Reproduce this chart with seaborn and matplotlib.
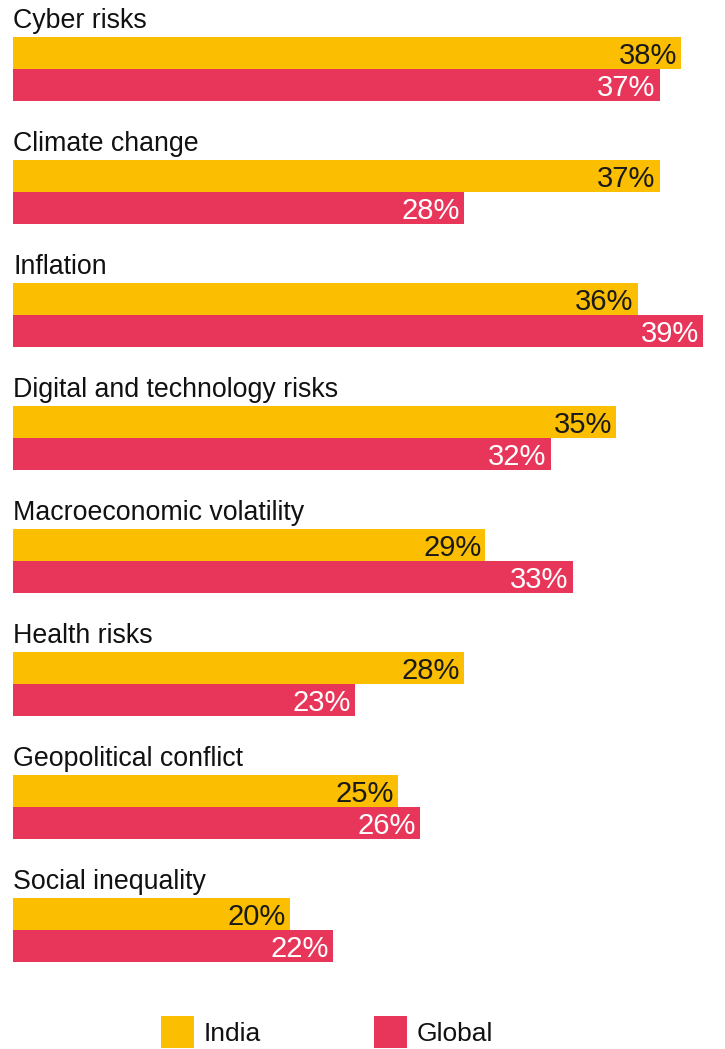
import matplotlib
matplotlib.use("Agg")
import matplotlib.pyplot as plt
import seaborn as sns
import pandas as pd

# ---- data ----
categories = ["Cyber risks", "Climate change", "Inflation",
              "Digital and technology risks", "Macroeconomic volatility",
              "Health risks", "Geopolitical conflict", "Social inequality"]
india = [38, 37, 36, 35, 29, 28, 25, 20]
global_vals = [37, 28, 39, 32, 33, 23, 26, 22]
series = ["India", "Global"]
colors = ["#FBBE00", "#E8365B"]
value_text_colors = ["#1a1a1a", "#ffffff"]

df = pd.DataFrame({
    "risk": categories * 2,
    "region": ["India"] * len(categories) + ["Global"] * len(categories),
    "value": india + global_vals,
})

sns.set_theme(style="white")
plt.rcParams['font.family'] = ['Liberation Sans', 'DejaVu Sans']

W, H = 725, 1049
fig = plt.figure(figsize=(W / 100, H / 100), dpi=100)
ax = fig.add_axes([13 / W, (H - 991.5) / H, (W - 13) / W, 984 / H])

sns.barplot(data=df, y="risk", x="value", hue="region", order=categories,
            hue_order=series, palette=colors, saturation=1, width=0.52,
            orient="h", ax=ax, linewidth=0, errorbar=None)

ax.set_xlim(7.3, 40.0)
ax.set_ylim(len(categories) - 0.5, -0.5)
handles, labels = ax.get_legend_handles_labels()
if ax.get_legend() is not None:
    ax.get_legend().remove()
ax.axis('off')

half = 0.13
for i, cat in enumerate(categories):
    ax.annotate(cat, xy=(0, i - 2 * half), xycoords=('axes fraction', 'data'),
                xytext=(0, 6.5), textcoords='offset points',
                ha='left', va='baseline', fontsize=19.3, color='#111111',
                annotation_clip=False)

for s_idx, vals in enumerate([india, global_vals]):
    offset = -half if s_idx == 0 else half
    for i, v in enumerate(vals):
        ax.annotate(f"{v}%", xy=(v, i + offset), xycoords='data',
                    xytext=(-3, 0), textcoords='offset points',
                    ha='right', va='center_baseline', fontsize=21,
                    color=value_text_colors[s_idx], annotation_clip=False)

fig.legend(handles, labels, loc='center', bbox_to_anchor=(327 / W, 1 - 1032 / H),
           ncol=2, frameon=False, fontsize=19, handlelength=1.25,
           handleheight=1.5, handletextpad=0.36, columnspacing=4.3,
           labelcolor='#111111')

fig.savefig("out.png", dpi=100)
